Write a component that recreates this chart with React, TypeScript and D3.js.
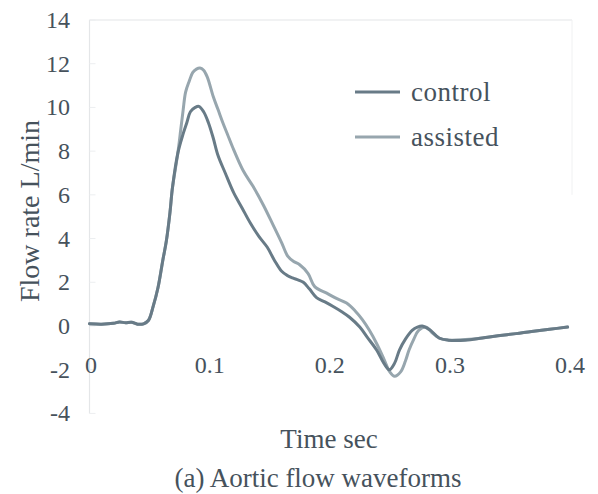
import React from "react";
import * as d3 from "d3";

const controlT = [0, 0.01, 0.02, 0.025, 0.03, 0.035, 0.04, 0.045, 0.049, 0.053, 0.057, 0.061, 0.064, 0.067, 0.069, 0.0735, 0.078, 0.081, 0.084, 0.088, 0.091, 0.095, 0.099, 0.103, 0.107, 0.113, 0.12, 0.127, 0.134, 0.141, 0.148, 0.154, 0.16, 0.165, 0.169, 0.174, 0.178, 0.183, 0.189, 0.196, 0.2025, 0.21, 0.2165, 0.225, 0.231, 0.239, 0.245, 0.2496, 0.254, 0.258, 0.263, 0.2686, 0.273, 0.277, 0.281, 0.284, 0.291, 0.299, 0.313, 0.327, 0.34, 0.355, 0.368, 0.383, 0.398];
const controlV = [0.1, 0.08, 0.12, 0.18, 0.15, 0.17, 0.08, 0.1, 0.25, 0.9, 1.75, 3.0, 3.9, 5.2, 6.3, 7.9, 8.8, 9.3, 9.8, 10.0, 10.05, 9.8, 9.3, 8.6, 7.8, 7.0, 6.1, 5.4, 4.7, 4.1, 3.6, 3.0, 2.5, 2.3, 2.2, 2.1, 2.0, 1.7, 1.3, 1.1, 0.9, 0.65, 0.4, -0.05, -0.5, -1.1, -1.7, -2.0, -1.7, -1.1, -0.6, -0.2, -0.05, 0.0, -0.1, -0.2, -0.55, -0.65, -0.65, -0.55, -0.45, -0.35, -0.25, -0.15, -0.05];

const assistedT = [0, 0.01, 0.02, 0.025, 0.03, 0.035, 0.04, 0.045, 0.049, 0.053, 0.057, 0.061, 0.064, 0.067, 0.069, 0.0735, 0.076, 0.078, 0.08, 0.083, 0.086, 0.089, 0.092, 0.095, 0.098, 0.103, 0.107, 0.111, 0.115, 0.119, 0.128, 0.136, 0.145, 0.153, 0.16, 0.165, 0.17, 0.175, 0.182, 0.1875, 0.1975, 0.206, 0.214, 0.221, 0.227, 0.233, 0.239, 0.245, 0.25, 0.254, 0.259, 0.263, 0.266, 0.27, 0.274, 0.28, 0.285, 0.291, 0.299, 0.313, 0.327, 0.34, 0.355, 0.368, 0.383, 0.398];
const assistedV = [0.1, 0.08, 0.12, 0.18, 0.15, 0.17, 0.08, 0.1, 0.25, 0.9, 1.75, 3.0, 3.9, 5.2, 6.3, 7.9, 9.0, 9.9, 10.7, 11.2, 11.6, 11.75, 11.8, 11.7, 11.4, 10.5, 9.9, 9.3, 8.75, 8.2, 7.1, 6.4, 5.5, 4.6, 3.8, 3.2, 2.95, 2.8, 2.4, 1.8, 1.5, 1.25, 1.05, 0.7, 0.3, -0.2, -0.8, -1.5, -2.1, -2.3, -2.1, -1.6, -1.1, -0.6, -0.2, -0.05, -0.3, -0.55, -0.65, -0.62, -0.55, -0.45, -0.35, -0.25, -0.15, -0.05];

const xTicks = [0, 0.1, 0.2, 0.3, 0.4];
const xTickLabels = ["0", "0.1", "0.2", "0.3", "0.4"];
const yTicks = [14, 12, 10, 8, 6, 4, 2, 0, -2, -4];

const seriesNames = ["control", "assisted"];
const seriesColors = ["#687b87", "#97a6ae"];

const FONT = "'Liberation Serif', 'Times New Roman', serif";
const TEXT = "#46525c";

export default function App() {
  const W = 598, H = 494;
  const x = d3.scaleLinear().domain([0, 0.4]).range([89.5, 570]);
  const y = d3.scaleLinear().domain([-4, 14]).range([413.4, 20]);

  const line = d3
    .line<[number, number]>()
    .x((d) => x(d[0]))
    .y((d) => y(d[1]))
    .curve(d3.curveCatmullRom.alpha(0.5));

  const controlData: [number, number][] = controlT.map((t, i) => [t, controlV[i]]);
  const assistedData: [number, number][] = assistedT.map((t, i) => [t, assistedV[i]]);

  return (
    <svg
      width={W}
      height={H}
      style={{ position: "absolute", left: 0, top: 0, background: "#fff" }}
      fontFamily={FONT}
    >
      <rect width={W} height={H} fill="#fff" />
      <line x1={x(0)} x2={572} y1={y(14)} y2={y(14)} stroke="#e4e6e8" strokeWidth={1.2} />
      <line x1={x(0)} x2={x(0)} y1={y(14)} y2={y(-4)} stroke="#e4e6e8" strokeWidth={1.2} />
      <line x1={572} x2={572} y1={y(14)} y2={y(6)} stroke="#f0f1f2" strokeWidth={1} />
      {yTicks.map((v) => (
        <line key={"yt" + v} x1={x(0)} x2={x(0) + 6} y1={y(v)} y2={y(v)} stroke="#eceef0" strokeWidth={1} />
      ))}

      {yTicks.map((v) => (
        <text key={"yl" + v} x={70} y={y(v) + 8} textAnchor="end" fontSize={24} fill={TEXT}>
          {v}
        </text>
      ))}
      {xTicks.map((t, i) => (
        <text key={"xl" + t} x={x(t) + (i === 0 ? 1.5 : 0)} y={373} textAnchor="middle" fontSize={24} fill={TEXT}>
          {xTickLabels[i]}
        </text>
      ))}

      <path d={line(assistedData) || ""} fill="none" stroke={seriesColors[1]} strokeWidth={3} strokeLinejoin="round" strokeLinecap="round" />
      <path d={line(controlData) || ""} fill="none" stroke={seriesColors[0]} strokeWidth={3} strokeLinejoin="round" strokeLinecap="round" />

      {seriesNames.map((n, i) => (
        <g key={n}>
          <line x1={355} x2={400} y1={92 + i * 45} y2={92 + i * 45} stroke={seriesColors[i]} strokeWidth={3} />
          <text x={411} y={101 + i * 45} fontSize={27} fill={TEXT} letterSpacing={0.5}>
            {n}
          </text>
        </g>
      ))}

      <text x={329} y={448} textAnchor="middle" fontSize={27} fill={TEXT}>
        Time sec
      </text>
      <text transform={`translate(39,211) rotate(-90)`} textAnchor="middle" fontSize={28} fill={TEXT}>
        Flow rate L/min
      </text>
      <text x={318} y={487} textAnchor="middle" fontSize={27} fill={TEXT}>
        (a) Aortic flow waveforms
      </text>
    </svg>
  );
}
